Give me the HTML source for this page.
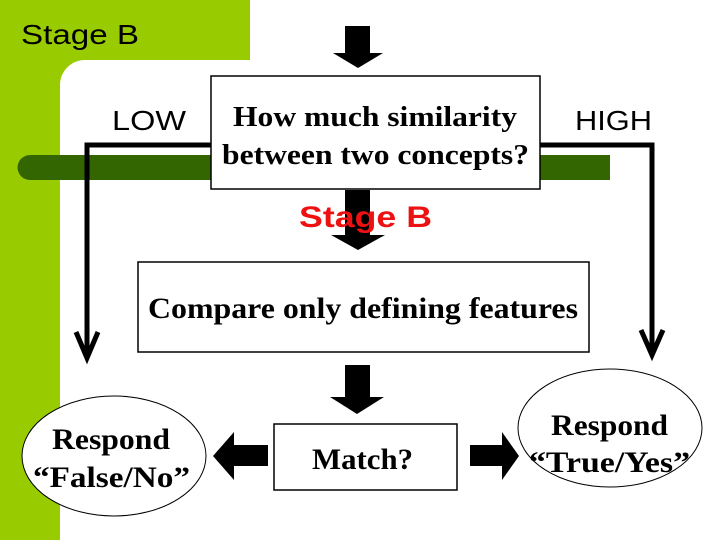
<!DOCTYPE html>
<html><head><style>
body{margin:0;width:720px;height:540px;overflow:hidden;background:#fff;position:relative}
svg{position:absolute;left:0;top:0}
</style></head><body>
<svg width="720" height="540" viewBox="0 0 720 540" xmlns="http://www.w3.org/2000/svg">
<rect x="0" y="0" width="250" height="60" fill="#99cc00"/>
<rect x="0" y="0" width="60" height="540" fill="#99cc00"/>
<path d="M60 60 L85 60 A25 25 0 0 0 60 85 Z" fill="#99cc00"/>
<text x="21" y="44" font-family="Liberation Sans, sans-serif" font-size="28" fill="#000" textLength="118" lengthAdjust="spacingAndGlyphs">Stage B</text>
<path d="M30 155 L610 155 L610 180 L30 180 a12.5 12.5 0 0 1 0 -25z" fill="#336600"/>
<polyline points="211,145 87,145 87,352" fill="none" stroke="#000" stroke-width="5"/>
<polyline points="76,332 87,358 98,332" fill="none" stroke="#000" stroke-width="5"/>
<polyline points="540,145 652,145 652,350" fill="none" stroke="#000" stroke-width="5"/>
<polyline points="641,330 652,355 663,330" fill="none" stroke="#000" stroke-width="5"/>
<text x="112" y="130" font-family="Liberation Sans, sans-serif" font-size="28" textLength="74" lengthAdjust="spacingAndGlyphs">LOW</text>
<text x="575" y="130" font-family="Liberation Sans, sans-serif" font-size="28" textLength="77" lengthAdjust="spacingAndGlyphs">HIGH</text>
<path d="M345 26h25v27h13l-25 15-25-15h12z" fill="#000"/>
<rect x="211" y="76" width="329" height="113" fill="#fff" stroke="#000" stroke-width="1.5"/>
<text x="233" y="126" font-family="Liberation Serif, serif" font-weight="bold" font-size="29" textLength="284" lengthAdjust="spacingAndGlyphs">How much similarity</text>
<text x="222" y="164" font-family="Liberation Serif, serif" font-weight="bold" font-size="29" textLength="307" lengthAdjust="spacingAndGlyphs">between two concepts?</text>
<path d="M345 190h25v45h15l-27 15-27-15h14z" fill="#000"/>
<text x="299" y="227" font-family="Liberation Sans, sans-serif" font-weight="bold" font-size="30" fill="#ee1111" textLength="133" lengthAdjust="spacingAndGlyphs">Stage B</text>
<rect x="138" y="262" width="451" height="90" fill="#fff" stroke="#000" stroke-width="1.5"/>
<text x="148" y="318" font-family="Liberation Serif, serif" font-weight="bold" font-size="30" textLength="430" lengthAdjust="spacingAndGlyphs">Compare only defining features</text>
<path d="M345 365h25v32h14l-27 17-27-17h15z" fill="#000"/>
<ellipse cx="114" cy="456" rx="92" ry="60" fill="#fff" stroke="#000" stroke-width="1"/>
<text x="52" y="449" font-family="Liberation Serif, serif" font-weight="bold" font-size="30" textLength="118" lengthAdjust="spacingAndGlyphs">Respond</text>
<text x="33" y="487" font-family="Liberation Serif, serif" font-weight="bold" font-size="30" textLength="157" lengthAdjust="spacingAndGlyphs">“False/No”</text>
<rect x="274" y="424" width="183" height="66" fill="#fff" stroke="#000" stroke-width="1.5"/>
<text x="312" y="469" font-family="Liberation Serif, serif" font-weight="bold" font-size="30" textLength="101" lengthAdjust="spacingAndGlyphs">Match?</text>
<path d="M268 445v21h-34v14l-21-24 21-24v13z" fill="#000"/>
<path d="M470 445v21h32v14l17-24-17-24v13z" fill="#000"/>
<ellipse cx="610" cy="428" rx="92" ry="59" fill="#fff" stroke="#000" stroke-width="1"/>
<text x="551" y="435" font-family="Liberation Serif, serif" font-weight="bold" font-size="30" textLength="117" lengthAdjust="spacingAndGlyphs">Respond</text>
<text x="529" y="472" font-family="Liberation Serif, serif" font-weight="bold" font-size="30" textLength="161" lengthAdjust="spacingAndGlyphs">“True/Yes”</text>
</svg>
</body></html>
